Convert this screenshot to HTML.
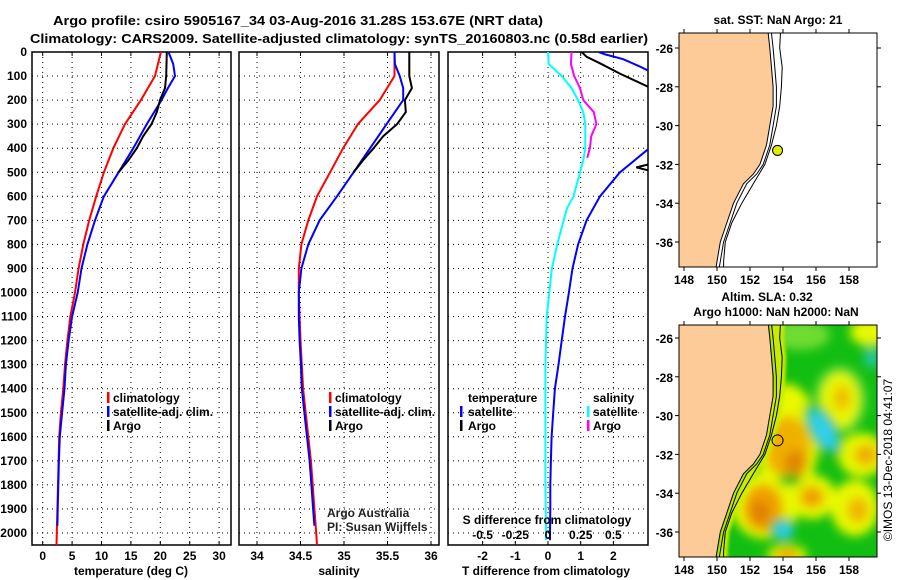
<!DOCTYPE html>
<html><head><meta charset="utf-8"><style>
html,body{margin:0;padding:0;background:#fff;}
svg{display:block;font-family:"Liberation Sans",sans-serif;}
.b{font-weight:bold;font-size:12px;}
</style></head><body>
<svg id="s" width="900" height="580" viewBox="0 0 900 580" xmlns="http://www.w3.org/2000/svg">
<defs>
<clipPath id="cp1"><rect x="32" y="52" width="199" height="493"/></clipPath>
<clipPath id="cp2"><rect x="239" y="52" width="200" height="493"/></clipPath>
<clipPath id="cp3"><rect x="448" y="52" width="200" height="493"/></clipPath>
<clipPath id="cm1"><rect x="679" y="33" width="198" height="234"/></clipPath>
<clipPath id="cm2"><rect x="679" y="325" width="198" height="232"/></clipPath>
<filter id="bl" x="-50%" y="-50%" width="200%" height="200%"><feGaussianBlur stdDeviation="5"/></filter>
<filter id="bl2"><feGaussianBlur stdDeviation="1.5"/></filter>
</defs>
<text x="298" y="25" text-anchor="middle" class="b" style="font-size:13px" textLength="490" lengthAdjust="spacingAndGlyphs">Argo profile: csiro 5905167_34 03-Aug-2016 31.28S 153.67E (NRT data)</text>
<text x="339" y="43" text-anchor="middle" class="b" style="font-size:13px" textLength="618" lengthAdjust="spacingAndGlyphs">Climatology: CARS2009. Satellite-adjusted climatology: synTS_20160803.nc (0.58d earlier)</text>

<!-- SLA map field -->
<g clip-path="url(#cm2)">
<rect x="679" y="325" width="198" height="232" fill="#12BE12"/>
<g filter="url(#bl)">
<ellipse cx="800" cy="335" rx="30" ry="15" fill="#70DC30"/>
<ellipse cx="870" cy="332" rx="20" ry="14" fill="#E8F800"/>
<ellipse cx="840" cy="400" rx="26" ry="34" fill="#70DC30"/>
<ellipse cx="840" cy="400" rx="19" ry="27" fill="#E8F800"/>
<ellipse cx="842" cy="398" rx="9" ry="13" fill="#F0C000"/>
<ellipse cx="787" cy="440" rx="32" ry="56" fill="#E8F800"/>
<ellipse cx="788" cy="450" rx="22" ry="34" fill="#F0B000"/>
<ellipse cx="795" cy="463" rx="11" ry="13" fill="#E08800"/>
<ellipse cx="862" cy="455" rx="24" ry="22" fill="#E8F800"/>
<ellipse cx="866" cy="455" rx="12" ry="11" fill="#F0B000"/>
<ellipse cx="765" cy="505" rx="34" ry="34" fill="#E8F800"/>
<ellipse cx="763" cy="508" rx="20" ry="24" fill="#F0A000"/>
<ellipse cx="760" cy="512" rx="9" ry="12" fill="#E08000"/>
<ellipse cx="812" cy="497" rx="24" ry="22" fill="#E8F800"/>
<ellipse cx="812" cy="497" rx="12" ry="11" fill="#F0A000"/>
<ellipse cx="855" cy="508" rx="24" ry="28" fill="#E8F800"/>
<ellipse cx="858" cy="510" rx="11" ry="13" fill="#F0B800"/>
<ellipse cx="787" cy="555" rx="20" ry="10" fill="#E8F800"/>
<ellipse cx="787" cy="555" rx="12" ry="6" fill="#F0A000"/>
<ellipse cx="823" cy="430" rx="14" ry="30" fill="#12BE12" transform="rotate(-30 823 430)"/>
<ellipse cx="823" cy="430" rx="9" ry="22" fill="#30D0F0" transform="rotate(-30 823 430)"/>
<ellipse cx="783" cy="530" rx="14" ry="12" fill="#12BE12"/>
<ellipse cx="783" cy="530" rx="8" ry="8" fill="#30D0F0"/>
<ellipse cx="790" cy="480" rx="12" ry="6" fill="#12BE12"/>
<ellipse cx="872" cy="358" rx="8" ry="10" fill="#20C8A0"/>
</g>
</g>

<g id="mapsvg"></g>
<g id="plots"></g>
<text transform="translate(892,460) rotate(-90)" text-anchor="middle" font-size="12">©IMOS 13-Dec-2018 04:41:07</text>
</svg>
<script>
// ---- data ----
const depthTicks=[0,100,200,300,400,500,600,700,800,900,1000,1100,1200,1300,1400,1500,1600,1700,1800,1900,2000];
const tempTicks=[0,5,10,15,20,25,30];
const salTicks=[34,34.5,35,35.5,36];
const salTickLabels=['34','34.5','35','35.5','36'];
const tdiffTicks=[-2,-1,0,1,2];
const sdiffTicks=[-0.5,-0.25,0,0.25,0.5];
const sdiffTickLabels=['-0.5','-0.25','0','0.25','0.5'];

const climDepth=[0,100,200,300,400,500,600,700,800,900,1000,1100,1200,1300,1400,1500,1600,1700,1800,1900,2000,2050];
const tempClim=[20.1,19.1,16.7,14.0,12.0,10.4,9.1,7.9,6.9,6.1,5.5,4.7,4.2,3.8,3.5,3.1,2.8,2.7,2.6,2.5,2.4,2.35];
const salClim=[35.58,35.58,35.41,35.16,34.99,34.84,34.69,34.59,34.51,34.48,34.48,34.49,34.50,34.515,34.53,34.56,34.59,34.62,34.64,34.66,34.68,34.69];
const satDepth=[0,50,100,150,200,300,400,500,600,700,800,900,1000,1100,1200,1300,1400,1500,1600,1700,1800,1900,1970];
const tempSat=[21.4,22.2,22.5,21.3,20.2,17.7,15.4,12.9,10.4,8.9,7.6,6.6,5.95,5.0,4.4,3.95,3.7,3.3,2.9,2.75,2.65,2.55,2.5];
const salSat=[35.58,35.585,35.64,35.68,35.68,35.49,35.30,35.11,34.92,34.72,34.59,34.51,34.48,34.48,34.49,34.505,34.515,34.545,34.575,34.605,34.625,34.645,34.66];
const argoDepth=[0,100,150,200,250,300,350,400,450,500];
const tempArgo=[21.1,21.0,20.8,19.95,19.4,18.5,17.1,16.0,14.6,12.9];
const salArgo=[35.75,35.75,35.78,35.70,35.71,35.61,35.45,35.34,35.22,35.11];

const tdSatDepth=[0,10,30,60,80,150,350,400,500,600,700,800,900,1000,1100,1200,1300,1400,1500,1600,1700,1800,1900,2000,2030];
const tdSat=[1.55,1.75,2.3,2.8,3.1,4,4,3.1,2.2,1.59,1.18,0.92,0.75,0.64,0.52,0.42,0.32,0.21,0.16,0.11,0.09,0.07,0.07,0.06,0.06];
const tdArgoDepth=[0,20,47,90,144,200,420,460,480,490,500];
const tdArgo=[1.03,1.18,1.59,2.2,3.05,4,4,3.3,2.7,3.0,3.4];
const sdSatDepth=[0,50,100,150,200,250,300,400,450,500,600,650,700,800,900,1000,1100,1300,1500,1800,2000,2030];
const sdSat=[0,0.005,0.105,0.18,0.23,0.27,0.285,0.285,0.27,0.245,0.195,0.145,0.12,0.07,0.03,0.01,-0.01,-0.02,-0.02,-0.02,-0.015,-0.015];
const sdArgoDepth=[0,50,100,150,200,250,300,350,400,440];
const sdArgo=[0.18,0.175,0.2,0.245,0.27,0.35,0.37,0.33,0.32,0.30];

const latTicks=[-26,-28,-30,-32,-34,-36];
const lonTicks=[148,150,152,154,156,158];
const coastLon=[153.1,153.2,153.3,153.4,153.4,153.2,153.0,152.6,152.2,151.6,151.0,150.6,150.2,150.0,149.9];
const coastLat=[-25.2,-26,-27,-28,-29,-30,-31,-32,-32.5,-33,-34,-35,-36,-37,-37.5];
const outerLon=[153.85,153.8,153.95,153.9,153.8,153.6,153.3,152.9,152.2,151.5,150.9,150.5,150.4,150.4];
const outerLat=[-25.2,-26,-27,-28,-29,-30,-31,-32,-33,-34,-35,-36,-37,-37.5];
const floatLon=153.67, floatLat=-31.28;

// ---- scales ----
const yD=d=>52+d*0.2405;
const xT=t=>42.7+t*5.88;
const xS=s=>257+(s-34)*87;
const xTD=t=>548+t*32.7;
const xSD=s=>548+s*130.8;
const xLon=l=>684+(l-148)*16.5;
const yLat1=l=>48+(-26-l)*19.4;
const yLat2=l=>338+(-26-l)*19.4;

const NS='http://www.w3.org/2000/svg';
function mk(tag,at,p){const e=document.createElementNS(NS,tag);for(const k in at)e.setAttribute(k,at[k]);p.appendChild(e);return e;}
const plots=document.getElementById('plots');

function panel(x0,x1,xs,ticks,labels,clip,name){
  const g=mk('g',{},plots);
  
  
  depthTicks.forEach(d=>{
    const l=mk('line',{x1:x0,x2:x1,y1:yD(d),y2:yD(d),stroke:'#000','stroke-dasharray':'1,4'},g);
    
    
  });
  ticks.forEach((t,i)=>{
    const X=xs(t);
    const l=mk('line',{x1:X,x2:X,y1:52,y2:545,stroke:'#000','stroke-dasharray':'1,4'},g);
    
    
    mk('line',{x1:X,x2:X,y1:52,y2:56,stroke:'#000'},g);
    mk('line',{x1:X,x2:X,y1:541,y2:545,stroke:'#000'},g);
    const tx=mk('text',{x:X,y:560,'text-anchor':'middle',class:'b'},g);
    tx.textContent=labels[i];
    
    
  });
  const r=mk('rect',{x:x0,y:52,width:x1-x0,height:493,fill:'none',stroke:'#000','stroke-width':1.5},g);
  
  
  return mk('g',{'clip-path':'url(#'+clip+')'},g);
}
function series(g,depths,vals,xs,color,name,w){
  const pts=depths.map((d,i)=>xs(vals[i]).toFixed(1)+','+yD(d).toFixed(1)).join(' ');
  const p=mk('polyline',{points:pts,fill:'none',stroke:color,'stroke-width':w||2},g);
  
  
}
function txt(x,y,s,cls,name,anchor,p){
  const t=mk('text',{x:x,y:y,class:cls||'b','text-anchor':anchor||'start'},p||plots);
  t.textContent=s;
  
  
  return t;
}
function mark(x,y,c,name){
  const m=mk('rect',{x:x,y:y-10,width:2.5,height:11,fill:c},plots);
  
  
}

// depth labels
depthTicks.forEach(d=>{txt(27,yD(d)+4,String(d),'b','depth-tick-label','end').setAttribute('font-size','13');});

const g1=panel(32,231,xT,tempTicks,tempTicks.map(String),'cp1','temperature-panel');
series(g1,climDepth,tempClim,xT,'#f00','temp-climatology-line');
series(g1,satDepth,tempSat,xT,'#00f','temp-satellite-line');
series(g1,argoDepth,tempArgo,xT,'#000','temp-argo-line');
txt(131,575,'temperature (deg C)','b','temperature-axis-title','middle');

const g2=panel(239,439,xS,salTicks,salTickLabels,'cp2','salinity-panel');
series(g2,climDepth,salClim,xS,'#f00','sal-climatology-line');
series(g2,satDepth,salSat,xS,'#00f','sal-satellite-line');
series(g2,argoDepth,salArgo,xS,'#000','sal-argo-line');
txt(339,575,'salinity','b','salinity-axis-title','middle');

const g3=panel(448,648,xTD,tdiffTicks,tdiffTicks.map(String),'cp3','difference-panel');
series(g3,sdSatDepth,sdSat,xSD,'#0ff','sdiff-satellite-line');
series(g3,sdArgoDepth,sdArgo,xSD,'#f0f','sdiff-argo-line');
series(g3,tdSatDepth,tdSat,xTD,'#00f','tdiff-satellite-line');
series(g3,tdArgoDepth,tdArgo,xTD,'#000','tdiff-argo-line');
txt(546,575,'T difference from climatology','b','tdiff-axis-title','middle');
txt(547,524,'S difference from climatology','b','sdiff-axis-title','middle');
sdiffTicks.forEach((s,i)=>{txt(xSD(s),539,sdiffTickLabels[i],'b','sdiff-tick-label','middle');});

// legends
[['climatology','#f00'],['satellite-adj. clim.','#00f'],['Argo','#000']].forEach((e,i)=>{
  mark(107,402+i*14,e[1],'legend-marker');
  txt(113,402+i*14,e[0],'b','temp-legend-entry');
  mark(329,402+i*14,e[1],'legend-marker');
  txt(335,402+i*14,e[0],'b','sal-legend-entry');
});
txt(468,402,'temperature','b','tdiff-legend-title');
txt(593,402,'salinity','b','sdiff-legend-title');
mark(460,416,'#00f','legend-marker');txt(468,416,'satellite','b','tdiff-legend-satellite');
mark(460,430,'#000','legend-marker');txt(468,430,'Argo','b','tdiff-legend-argo');
mark(587,416,'#0ff','legend-marker');txt(593,416,'satellite','b','sdiff-legend-satellite');
mark(587,430,'#f0f','legend-marker');txt(593,430,'Argo','b','sdiff-legend-argo');
const a1=txt(327,517,'Argo Australia','','credit-argo-australia');a1.setAttribute('font-size','12');a1.setAttribute('fill','#222');
const a2=txt(327,531,'PI: Susan Wijffels','','credit-pi');a2.setAttribute('font-size','12');a2.setAttribute('fill','#222');

// ---- maps ----
const mg=document.getElementById('mapsvg');
function mapFrame(top,bot,yLat,clip,name,strip){
  const g=mk('g',{},mg);
  
  
  const c=mk('g',{'clip-path':'url(#'+clip+')'},g);
  if(strip){
    const sp=coastLon.map((l,i)=>xLon(l)+','+yLat(coastLat[i])).concat(outerLon.map((l,i)=>xLon(l+0.25)+','+yLat(outerLat[i])).reverse()).join(' ');
    const s=mk('polygon',{points:sp,fill:'#C8EC00',filter:'url(#bl2)'},c);
    
    
  }
  const lp=['679,'+(top-5)].concat(coastLon.map((l,i)=>xLon(l).toFixed(1)+','+yLat(coastLat[i]).toFixed(1))).concat(['679,'+(bot+5)]).join(' ');
  const land=mk('polygon',{points:lp,fill:'#FDCB98',stroke:'#000','stroke-width':1},c);
  
  
  const inner=mk('polyline',{points:coastLon.map((l,i)=>xLon(l+0.2).toFixed(1)+','+yLat(coastLat[i]).toFixed(1)).join(' '),fill:'none',stroke:'#000','stroke-width':1},c);
  
  
  const outer=mk('polyline',{points:outerLon.map((l,i)=>xLon(l).toFixed(1)+','+yLat(outerLat[i]).toFixed(1)).join(' '),fill:'none',stroke:'#000','stroke-width':1},c);
  
  
  const r=mk('rect',{x:679,y:top,width:198,height:bot-top,fill:'none',stroke:'#000','stroke-width':1},g);
  
  
  latTicks.forEach(l=>{
    const Y=yLat(l);
    mk('line',{x1:675,x2:679,y1:Y,y2:Y,stroke:'#000'},g);
    mk('line',{x1:877,x2:881,y1:Y,y2:Y,stroke:'#000'},g);
    txt(673,Y+5,String(l),'b','map-lat-label','end',g).setAttribute('font-size','13');
  });
  lonTicks.forEach(l=>{
    const X=xLon(l);
    mk('line',{x1:X,x2:X,y1:bot,y2:bot+4,stroke:'#000'},g);
    mk('line',{x1:X,x2:X,y1:top-4,y2:top,stroke:'#000'},g);
    txt(X,bot+17,String(l),'b','map-lon-label','middle',g).setAttribute('font-size','13');
  });
  return g;
}
const m1=mapFrame(33,267,yLat1,'cm1','sst-map',false);
const fp=mk('circle',{cx:xLon(floatLon),cy:yLat1(floatLat),r:5,fill:'#DDEE00',stroke:'#000'},m1);


const m2=mapFrame(325,557,yLat2,'cm2','sla-map',true);
const fp2=mk('circle',{cx:xLon(floatLon),cy:yLat2(floatLat),r:5.5,fill:'none',stroke:'#000'},m2);


txt(778,24,'sat. SST: NaN Argo: 21','b','sst-map-title','middle');
txt(767,301,'Altim. SLA: 0.32','b','sla-map-title','middle');
txt(776,316,'Argo h1000: NaN h2000: NaN','b','sla-map-subtitle','middle');
</script>
</body></html>
